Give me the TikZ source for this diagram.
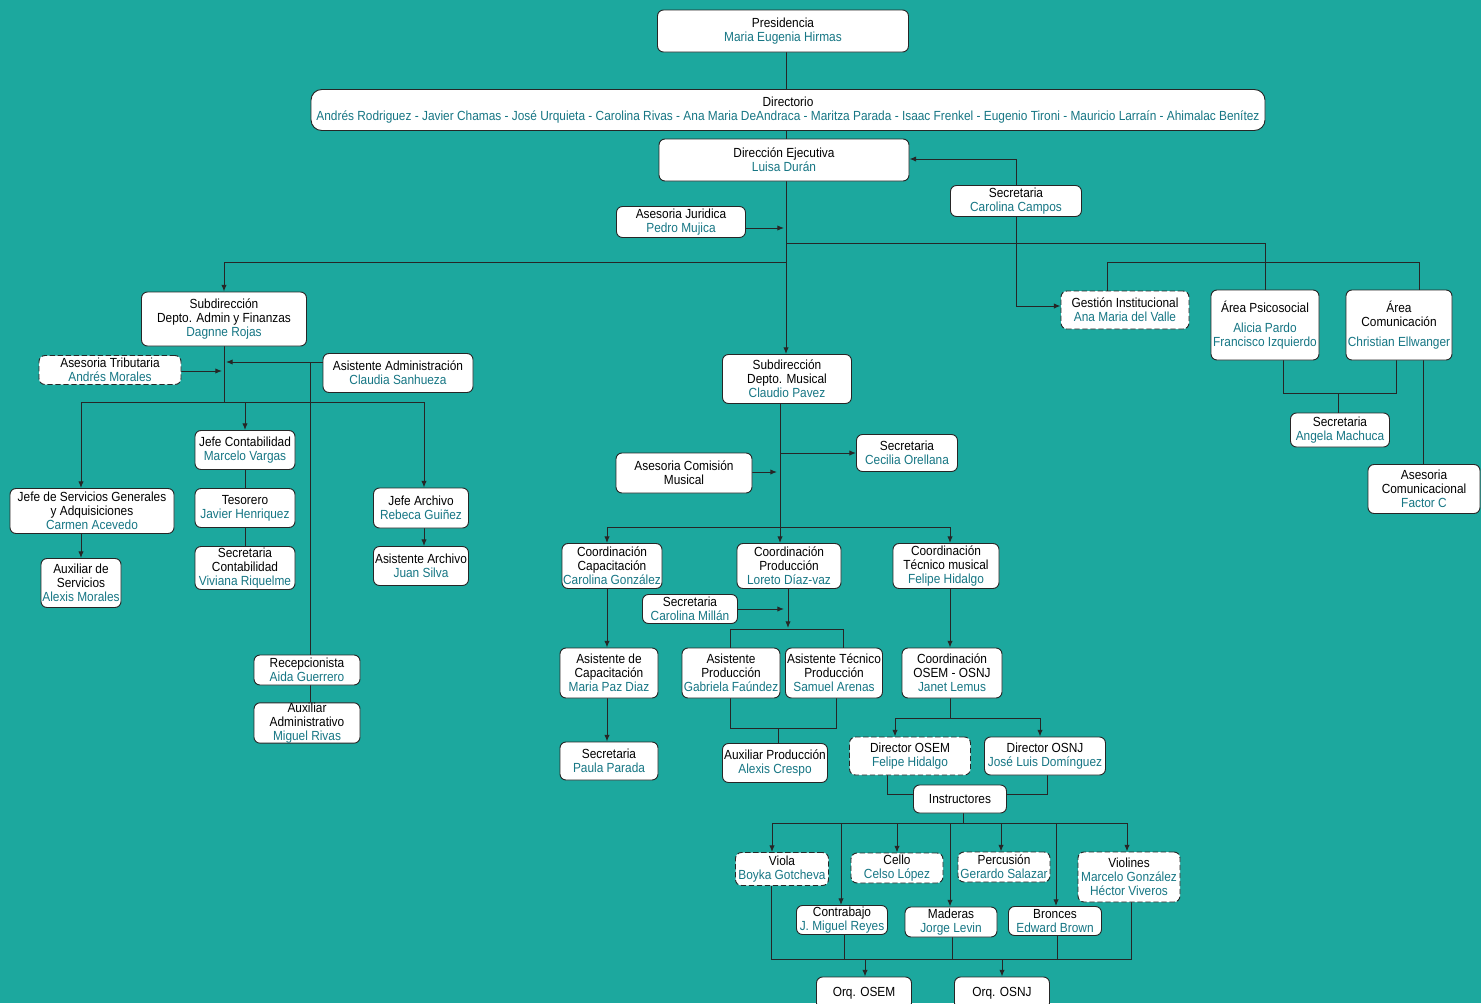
\documentclass[tikz,border=0pt]{standalone}
\usepackage{fontspec}
\setmainfont{Liberation Sans}[FakeStretch=0.9]
\usetikzlibrary{arrows.meta}
\definecolor{bgteal}{RGB}{28,168,158}
\definecolor{nmteal}{RGB}{22,118,132}
\newcommand{\nm}[1]{\textcolor{nmteal}{#1}}
\pgfdeclarelayer{bgl}\pgfdeclarelayer{edges}
\pgfsetlayers{bgl,edges,main}
\tikzset{
 box/.style={draw=black!85, fill=white, rounded corners=4.5pt, line width=0.7pt, align=center, inner sep=0pt, font=\fontsize{9.9}{10.5}\selectfont},
 dbox/.style={dash pattern=on 4pt off 2pt},
 conn/.style={draw=black!85, line width=0.75pt},
 arr/.style={conn, -{Latex[length=5pt,width=4pt]}},
}
\newcommand{\bx}[6][]{\node[box,#1,minimum width=#4*0.75pt,minimum height=#5*0.75pt] (#2) at (#3) {#6};}
\begin{document}
\begin{tikzpicture}[x=0.75pt,y=-0.75pt]
\useasboundingbox (0,0) rectangle (1481,1003);
\begin{pgfonlayer}{bgl}
\fill[bgteal] (0,0) rectangle (1481,1003);
\end{pgfonlayer}
% top
\bx{pres}{783,31}{251}{42}{Presidencia\\\nm{Maria Eugenia Hirmas}}
\bx[rounded corners=8pt]{dir}{788,110}{954}{41}{Directorio\\\nm{Andrés Rodriguez - Javier Chamas - José Urquieta - Carolina Rivas - Ana Maria DeAndraca - Maritza Parada - Isaac Frenkel - Eugenio Tironi - Mauricio Larraín - Ahimalac Benítez}}
\bx{dirE}{784,160}{250}{42}{Dirección Ejecutiva\\\nm{Luisa Durán}}
\bx{camp}{1016,201}{131}{31}{Secretaria\\\nm{Carolina Campos}}
\bx{jur}{681,222}{129}{31}{Asesoria Juridica\\\nm{Pedro Mujica}}
% admin
\bx{subA}{224,319}{165}{54}{Subdirección\\Depto. Admin y Finanzas\\\nm{Dagnne Rojas}}
\bx[dbox]{trib}{110,370}{142}{29}{Asesoria Tributaria\\\nm{Andrés Morales}}
\bx{asis}{398,373}{150}{39}{Asistente Administración\\\nm{Claudia Sanhueza}}
\bx{jc}{245,450}{100}{39}{Jefe Contabilidad\\\nm{Marcelo Vargas}}
\bx{tes}{245,508}{100}{39}{Tesorero\\\nm{Javier Henriquez}}
\bx{secC}{245,568}{100}{43}{Secretaria\\Contabilidad\\\nm{Viviana Riquelme}}
\bx{jsg}{92,511}{164}{45}{Jefe de Servicios Generales\\y Adquisiciones\\\nm{Carmen Acevedo}}
\bx{auxS}{81,583}{80}{49}{Auxiliar de\\Servicios\\\nm{Alexis Morales}}
\bx{ja}{421,508}{95}{40}{Jefe Archivo\\\nm{Rebeca Guiñez}}
\bx{asA}{421,566}{95}{39}{Asistente Archivo\\\nm{Juan Silva}}
\bx{rec}{307,670}{106}{30}{Recepcionista\\\nm{Aida Guerrero}}
\bx{auxA}{307,723}{106}{40}{Auxiliar\\Administrativo\\\nm{Miguel Rivas}}
% right
\bx[dbox]{gest}{1125,310}{128}{38}{Gestión Institucional\\\nm{Ana Maria del Valle}}
\bx{psi}{1265,325}{108}{70}{Área Psicosocial\\[4pt]\nm{Alicia Pardo}\\\nm{Francisco Izquierdo}}
\bx{com}{1399,325}{106}{70}{Área\\Comunicación\\[4pt]\nm{Christian Ellwanger}}
\bx{secA}{1340,430}{99}{34}{Secretaria\\\nm{Angela Machuca}}
\bx{asCom}{1424,489}{112}{49}{Asesoria\\Comunicacional\\\nm{Factor C}}
% music
\bx{subM}{787,379}{129}{49}{Subdirección\\Depto. Musical\\\nm{Claudio Pavez}}
\bx{cec}{907,453}{101}{37}{Secretaria\\\nm{Cecilia Orellana}}
\bx{comM}{684,473}{136}{40}{Asesoria Comisión\\Musical}
\bx{cc}{612,566}{100}{45}{Coordinación\\Capacitación\\\nm{Carolina González}}
\bx{cp}{789,566}{104}{45}{Coordinación\\Producción\\\nm{Loreto Díaz-vaz}}
\bx{ct}{946,566}{106}{45}{Coordinación\\Técnico musical\\\nm{Felipe Hidalgo}}
\bx{mil}{690,609}{95}{29}{Secretaria\\\nm{Carolina Millán}}
\bx{ac}{609,673}{98}{50}{Asistente de\\Capacitación\\\nm{Maria Paz Diaz}}
\bx{pp}{609,761}{98}{38}{Secretaria\\\nm{Paula Parada}}
\bx{ap}{731,673}{98}{50}{Asistente\\Producción\\\nm{Gabriela Faúndez}}
\bx{at}{834,673}{97}{50}{Asistente Técnico\\Producción\\\nm{Samuel Arenas}}
\bx{auxP}{775,763}{105}{39}{Auxiliar Producción\\\nm{Alexis Crespo}}
\bx{osj}{952,673}{100}{50}{Coordinación\\OSEM - OSNJ\\\nm{Janet Lemus}}
\bx[dbox]{dOSEM}{910,756}{121}{38}{Director OSEM\\\nm{Felipe Hidalgo}}
\bx{dOSNJ}{1045,756}{121}{38}{Director OSNJ\\\nm{José Luis Domínguez}}
\bx{ins}{960,799}{93}{28}{Instructores}
\bx[dbox]{viola}{782,869}{93}{33}{Viola\\\nm{Boyka Gotcheva}}
\bx[dbox]{cello}{897,868}{92}{30}{Cello\\\nm{Celso López}}
\bx[dbox]{perc}{1004,867}{92}{30}{Percusión\\\nm{Gerardo Salazar}}
\bx[dbox]{violin}{1129,877}{102}{50}{Violines\\\nm{Marcelo González}\\\nm{Héctor Viveros}}
\bx{cbajo}{842,920}{91}{29}{Contrabajo\\\nm{J. Miguel Reyes}}
\bx{mad}{951,922}{92}{30}{Maderas\\\nm{Jorge Levin}}
\bx{bron}{1055,921}{93}{29}{Bronces\\\nm{Edward Brown}}
\bx{orqA}{864,993}{95}{32}{Orq. OSEM}
\bx{orqB}{1002,993}{95}{32}{Orq. OSNJ}

\begin{pgfonlayer}{edges}
\coordinate (sp) at (786,0);
\draw[conn] (pres.south -| sp) -- (dir.north -| sp);
\draw[conn] (dir.south -| sp) -- (dirE.north -| sp);
\draw[arr] (dirE.south -| sp) -- (subM.north -| sp);
\coordinate (jA) at (784,228);
\draw[arr] (jA -| jur.east) -- (jA);
\coordinate (cs1) at (1016,159);
\coordinate (cs2) at (1016,306);
\draw[arr] (cs1) -- (cs1 -| dirE.east);
\draw[conn] (cs1) -- (cs2);
\draw[arr] (cs2) -- (cs2 -| gest.west);
\coordinate (r1) at (786,243);
\draw[conn] (r1) -| (psi.north);
\coordinate (r2a) at (1107,262);
\coordinate (r2b) at (1419,262);
\draw[conn] (r2a |- gest.north) -- (r2a) -- (r2b) -- (r2b |- com.north);
\coordinate (ps1) at (1283,393);
\coordinate (ps2) at (1396,393);
\coordinate (ps3) at (1338,393);
\draw[conn] (ps1 |- psi.south) -- (ps1) -- (ps2) -- (ps2 |- com.south);
\draw[conn] (ps3) -- (ps3 |- secA.north);
\coordinate (cf) at (1423,0);
\draw[conn] (com.south -| cf) -- (asCom.north -| cf);
% admin
\coordinate (l1) at (786,262);
\draw[arr] (l1) -| (subA.north);
\coordinate (a1) at (224,402);
\draw[conn] (subA.south) -- (a1);
\coordinate (t1) at (222,371);
\draw[arr] (t1 -| trib.east) -- (t1);
\coordinate (t2) at (226,362);
\coordinate (t3) at (310,362);
\draw[arr] (t2 -| asis.west) -- (t2);
\draw[conn] (t3) -- (t3 |- rec.north);
\draw[conn] (t3 |- rec.south) -- (t3 |- auxA.north);
\coordinate (b1) at (81,402);
\coordinate (b2) at (424,402);
\draw[conn] (b1) -- (b2);
\draw[arr] (b1) -- (b1 |- jsg.north);
\draw[arr] (jc.north |- b1) -- (jc.north);
\draw[arr] (b2) -- (b2 |- ja.north);
\draw[arr] (b1 |- jsg.south) -- (auxS.north);
\draw[conn] (jc.south) -- (tes.north);
\draw[conn] (tes.south) -- (secC.north);
\draw[arr] (b2 |- ja.south) -- (b2 |- asA.north);
% music
\coordinate (mv) at (780,527);
\draw[conn] (subM.south -| mv) -- (mv);
\coordinate (m1) at (780,453);
\draw[arr] (m1) -- (m1 -| cec.west);
\coordinate (m2) at (777,472);
\draw[arr] (m2 -| comM.east) -- (m2);
\coordinate (c1) at (607,527);
\coordinate (c3) at (950,527);
\draw[conn] (c1) -- (c3);
\draw[arr] (c1) -- (c1 |- cc.north);
\draw[arr] (mv) -- (mv |- cp.north);
\draw[arr] (c3) -- (c3 |- ct.north);
\draw[arr] (c1 |- cc.south) -- (c1 |- ac.north);
\draw[arr] (c1 |- ac.south) -- (c1 |- pp.north);
\coordinate (p0) at (788,628);
\draw[arr] (cp.south -| p0) -- (p0);
\coordinate (p1) at (784,609);
\draw[arr] (p1 -| mil.east) -- (p1);
\coordinate (p2) at (730,629);
\coordinate (p3) at (843,629);
\draw[conn] (p2 |- ap.north) -- (p2) -- (p3) -- (p3 |- at.north);
\coordinate (q1) at (730,728);
\coordinate (q2) at (836,728);
\coordinate (q3) at (778,728);
\draw[conn] (q1 |- ap.south) -- (q1) -- (q2) -- (q2 |- at.south);
\draw[conn] (q3) -- (q3 |- auxP.north);
\draw[arr] (c3 |- ct.south) -- (c3 |- osj.north);
\coordinate (o0) at (950,718);
\coordinate (o1) at (895,718);
\coordinate (o2) at (1040,718);
\draw[conn] (c3 |- osj.south) -- (o0);
\draw[conn] (o1) -- (o2);
\draw[arr] (o1) -- (o1 |- dOSEM.north);
\draw[arr] (o2) -- (o2 |- dOSNJ.north);
\coordinate (i1) at (887,794);
\coordinate (i2) at (1047,794);
\draw[conn] (i1 |- dOSEM.south) -- (i1) -- (i1 -| ins.west);
\draw[conn] (i2 |- dOSNJ.south) -- (i2) -- (i2 -| ins.east);
\coordinate (k0) at (963,823);
\coordinate (kL) at (772,823);
\coordinate (kR) at (1127,823);
\draw[conn] (ins.south -| k0) -- (k0);
\draw[conn] (kL) -- (kR);
\foreach \xx/\nd in {772/viola, 841/cbajo, 897/cello, 950/mad, 1001/perc, 1056/bron, 1127/violin}
  \draw[arr] (\xx,823) -- (\nd.north -| \xx,823);
\coordinate (zL) at (771,959);
\coordinate (zR) at (1131,959);
\draw[conn] (zL |- viola.south) -- (zL) -- (zR) -- (zR |- violin.south);
\foreach \xx/\nd in {844/cbajo, 952/mad, 1057/bron}
  \draw[conn] (\nd.south -| \xx,959) -- (\xx,959);
\coordinate (zA) at (865,959);
\coordinate (zB) at (1002,959);
\draw[arr] (zA) -- (zA |- orqA.north);
\draw[arr] (zB) -- (zB |- orqB.north);
\end{pgfonlayer}
\end{tikzpicture}
\end{document}
